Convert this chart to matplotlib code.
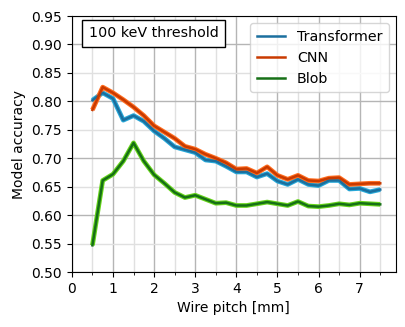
import matplotlib
matplotlib.use("Agg")
import matplotlib.pyplot as plt
from matplotlib.ticker import MultipleLocator
import numpy as np

# wire pitch in mm, 0.5 .. 7.5 in steps of 0.25
pitch = [0.5, 0.75, 1.0, 1.25, 1.5, 1.75, 2.0, 2.25, 2.5, 2.75, 3.0, 3.25, 3.5, 3.75,
         4.0, 4.25, 4.5, 4.75, 5.0, 5.25, 5.5, 5.75, 6.0, 6.25, 6.5, 6.75, 7.0, 7.25, 7.5]

transformer = [0.802, 0.815, 0.805, 0.767, 0.775, 0.765, 0.748, 0.735, 0.720, 0.715,
               0.710, 0.697, 0.695, 0.686, 0.676, 0.676, 0.667, 0.673, 0.660, 0.654,
               0.663, 0.654, 0.652, 0.661, 0.661, 0.646, 0.647, 0.641, 0.645]
cnn = [0.785, 0.825, 0.815, 0.803, 0.790, 0.775, 0.757, 0.746, 0.735, 0.721,
       0.716, 0.707, 0.700, 0.692, 0.681, 0.682, 0.674, 0.685, 0.670, 0.663,
       0.670, 0.661, 0.660, 0.665, 0.666, 0.654, 0.655, 0.656, 0.656]
blob = [0.547, 0.661, 0.672, 0.695, 0.727, 0.695, 0.671, 0.656, 0.640, 0.631,
        0.635, 0.628, 0.621, 0.622, 0.617, 0.617, 0.620, 0.623, 0.620, 0.617,
        0.624, 0.616, 0.615, 0.617, 0.620, 0.618, 0.621, 0.620, 0.619]

series = [
    ("Transformer", transformer, "#1b6f9e", "#27a8d8"),
    ("CNN", cnn, "#c93a00", "#ff6d1f"),
    ("Blob", blob, "#167016", "#66d41a"),
]

fig = plt.figure(figsize=(4.06, 3.27), dpi=100)
ax = fig.add_axes([0.177, 0.168, 0.798, 0.783])

for name, vals, core, glow in series:
    ax.plot(pitch, vals, color=glow, lw=3.4, solid_capstyle="butt", zorder=3)
    ax.plot(pitch, vals, color=core, lw=1.8, label=name, zorder=4)

ax.set_xlim(0, 7.88)
ax.set_ylim(0.5, 0.95)
ax.xaxis.set_major_locator(MultipleLocator(1))
ax.xaxis.set_minor_locator(MultipleLocator(0.5))
ax.yaxis.set_major_locator(MultipleLocator(0.05))
ax.set_yticklabels([f"{v:.2f}" for v in ax.get_yticks()])
ax.tick_params(which="minor", length=2.5)

ax.grid(True, which="major", axis="x", color="#b5b5b5", lw=1)
ax.grid(True, which="minor", axis="x", color="#e0e0e0", lw=1)
ax.grid(True, which="major", axis="y", lw=1)
# y grid alternates: multiples of 0.1 darker
for v, gl in zip(ax.get_yticks(), ax.get_ygridlines()):
    k = int(round(v * 100))
    gl.set_color("#b5b5b5" if k % 10 == 0 else "#e0e0e0")
ax.set_axisbelow(True)

ax.set_xlabel("Wire pitch [mm]")
ax.set_ylabel("Model accuracy")

ax.text(0.052, 0.932, "100 keV threshold", transform=ax.transAxes, fontsize=10.3,
        va="center", ha="left",
        bbox=dict(boxstyle="square,pad=0.45", facecolor="white", edgecolor="black", lw=1))

ax.legend(loc="upper right", fontsize=10.3, borderpad=0.45)

fig.savefig("out.png", dpi=100)
